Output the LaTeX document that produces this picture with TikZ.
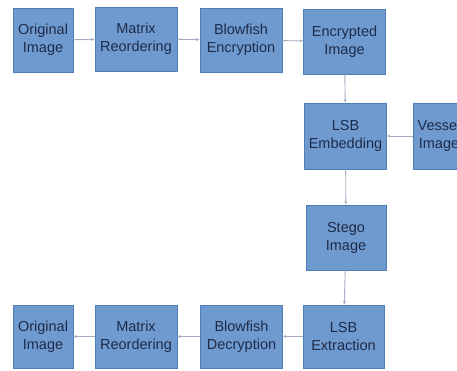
\documentclass[tikz,border=0pt]{standalone}
\usepackage{fontspec}
\setmainfont{Liberation Sans}
\usetikzlibrary{arrows.meta, positioning}
\definecolor{boxfill}{HTML}{6F9AD0}
\definecolor{boxline}{HTML}{4F7DB8}
\definecolor{boxtext}{HTML}{1E2B48}
\definecolor{flowcol}{HTML}{A3AEC2}

\begin{document}
\begin{tikzpicture}[x=1pt, y=-1pt,
    blk/.style={rectangle, draw=boxline, fill=boxfill, line width=0.8pt,
      minimum width=82pt, minimum height=64pt, inner sep=0pt, align=center,
      text=boxtext, font=\fontsize{14.5}{18}\selectfont},
    narrow/.style={blk, minimum width=60pt},
    flow/.style={-{Stealth[length=3.5pt, width=3pt]}, line width=0.9pt, flowcol}]
  \useasboundingbox (0,0) rectangle (457,370);
  \clip (0,0) rectangle (457,370);
  % encryption row
  \node[narrow] (orig1) at (43,40) {Original\\Image};
  \node[blk] (mat1) at (136,39) {Matrix\\Reordering};
  \node[blk] (blow1) at (241,40) {Blowfish\\Encryption};
  \node[blk, minimum height=65pt] (enc) at (344.5,41.5) {Encrypted\\Image};
  \foreach \a/\b in {orig1/mat1,mat1/blow1,blow1/enc} \draw[flow] (\a)--(\b);
  % embedding
  \node[blk, minimum height=66pt] (emb) at (345.5,136) {LSB\\Embedding};
  \node[blk, minimum width=52pt, minimum height=66pt] (vessel) at (439,136) {Vessel\\Image};
  \node[blk, minimum width=80pt, minimum height=65pt] (stego) at (346,237.5) {Stego\\Image};
  \draw[flow] (enc)--(emb);
  \draw[flow] (vessel)--(emb);
  \draw[flow] (emb)--(stego);
  % decryption row
  \node[narrow, minimum height=63pt] (orig2) at (43,336.5) {Original\\Image};
  \node[blk, minimum height=63pt] (mat2) at (136,336.5) {Matrix\\Reordering};
  \node[blk, minimum height=63pt] (blow2) at (241.5,336.5) {Blowfish\\Decryption};
  \node[blk, minimum width=81pt, minimum height=63pt] (ext) at (343.5,336.5) {LSB\\Extraction};
  \draw[flow] (stego)--(ext);
  \foreach \a/\b in {ext/blow2,blow2/mat2,mat2/orig2} \draw[flow] (\a)--(\b);
\end{tikzpicture}
\end{document}
